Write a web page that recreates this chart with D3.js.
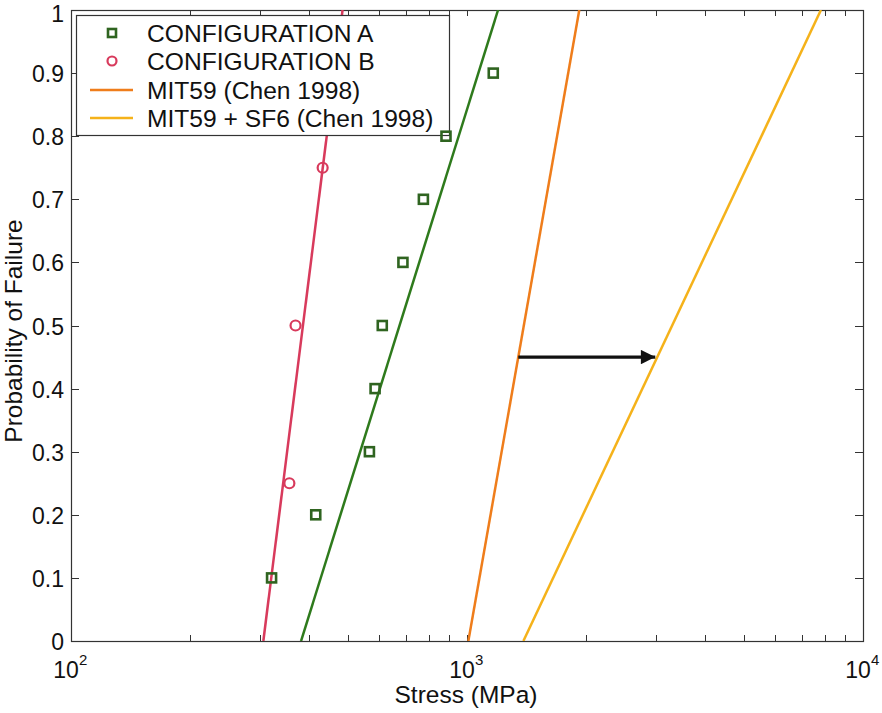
<!DOCTYPE html>
<html>
<head>
<meta charset="utf-8">
<script src="https://cdn.jsdelivr.net/npm/d3@7"></script>
<style>
  html, body { margin: 0; padding: 0; background: #fff; }
  svg { display: block; }
  text { font-family: "Liberation Sans", Arial, Helvetica, sans-serif; fill: #111; }
</style>
</head>
<body>
<svg id="chart" width="882" height="713"></svg>
<script>
// Weibull-type failure data (stress in MPa vs probability of failure)
const probA   = [0.1, 0.2, 0.3, 0.4, 0.5, 0.6, 0.7, 0.8, 0.9];
const stressA = [321, 415, 567, 586, 611, 689, 776, 885, 1165];

const probB   = [0.25, 0.5, 0.75];
const stressB = [356, 369, 432];

// Fitted / reference lines: [stress, probability] end points
const fitA     = [[381, 0], [1198, 1]];
const fitB     = [[306, 0], [485, 1]];
const mit59    = [[1008, 0], [1921, 1]];
const mit59sf6 = [[1388, 0], [7830, 1]];

// Arrow showing the shift between the two Chen (1998) curves
const arrowProb = 0.45;

const xTickValues = [100, 1000, 10000];
const xTickExps   = ["2", "3", "4"];
const yTickValues = [0, 0.1, 0.2, 0.3, 0.4, 0.5, 0.6, 0.7, 0.8, 0.9, 1];
const yTickLabels = ["0", "0.1", "0.2", "0.3", "0.4", "0.5", "0.6", "0.7", "0.8", "0.9", "1"];

const legendLabels = ["CONFIGURATION A", "CONFIGURATION B", "MIT59 (Chen 1998)", "MIT59 + SF6 (Chen 1998)"];

const colA = "#2f6420", colLineA = "#2e7a1c";
const colB = "#d83a5c";
const colMit = "#ef7d1b";
const colSf6 = "#f5b21a";

const svg = d3.select("#chart");
const plotL = 71, plotR = 863, plotT = 10, plotB = 641;

const x = d3.scaleLog().domain([100, 10000]).range([plotL, plotR]);
const y = d3.scaleLinear().domain([0, 1]).range([plotB, plotT]);

// minor ticks on the log axis
const minorX = [];
for (let d = 100; d < 10000; d *= 10) for (let k = 2; k <= 9; k++) minorX.push(d * k);

const axisColor = "#333";

// ticks pointing inward on all four sides
const gT = svg.append("g").attr("stroke", axisColor).attr("stroke-width", 1);
[...xTickValues, ...minorX].forEach(v => {
  const px = Math.round(x(v)) + 0.5;
  gT.append("line").attr("x1", px).attr("x2", px).attr("y1", plotB).attr("y2", plotB - 6);
  gT.append("line").attr("x1", px).attr("x2", px).attr("y1", plotT).attr("y2", plotT + 6);
});
yTickValues.forEach(v => {
  const py = Math.round(y(v)) + 0.5;
  gT.append("line").attr("x1", plotL).attr("x2", plotL + 8).attr("y1", py).attr("y2", py);
  gT.append("line").attr("x1", plotR).attr("x2", plotR - 8).attr("y1", py).attr("y2", py);
});

// axis box
svg.append("rect").attr("x", plotL + 0.5).attr("y", plotT + 0.5)
  .attr("width", plotR - plotL).attr("height", plotB - plotT)
  .attr("fill", "none").attr("stroke", axisColor).attr("stroke-width", 1.2);

// y tick labels (top one kept inside the page)
svg.append("g").selectAll("text").data(yTickValues).join("text")
  .attr("x", 64).attr("y", d => Math.max(y(d) + 9, 22))
  .attr("text-anchor", "end").attr("font-size", 23)
  .text((d, i) => yTickLabels[i]);

// x tick labels 10^n
const xl = svg.append("g").selectAll("g").data(xTickValues).join("g")
  .attr("transform", d => `translate(${x(d)},678)`);
xl.append("text").attr("x", -5).attr("text-anchor", "middle").attr("font-size", 23).text("10");
xl.append("text").attr("x", 8).attr("y", -13).attr("font-size", 15).text((d, i) => xTickExps[i]);

// axis titles
svg.append("text").attr("x", 466).attr("y", 703).attr("text-anchor", "middle")
  .attr("font-size", 24.5).text("Stress (MPa)");
svg.append("text").attr("transform", "translate(22,331) rotate(-90)")
  .attr("text-anchor", "middle").attr("font-size", 24.5).text("Probability of Failure");

// clip for plotted lines
svg.append("clipPath").attr("id", "plotClip").append("rect")
  .attr("x", plotL).attr("y", plotT).attr("width", plotR - plotL).attr("height", plotB - plotT);

const line = d3.line().x(d => x(d[0])).y(d => y(d[1]));
const plot = svg.append("g").attr("clip-path", "url(#plotClip)");

plot.append("path").datum(fitB).attr("d", line).attr("fill", "none").attr("stroke", colB).attr("stroke-width", 2.5);
plot.append("path").datum(fitA).attr("d", line).attr("fill", "none").attr("stroke", colLineA).attr("stroke-width", 2.5);
plot.append("path").datum(mit59).attr("d", line).attr("fill", "none").attr("stroke", colMit).attr("stroke-width", 2.5);
plot.append("path").datum(mit59sf6).attr("d", line).attr("fill", "none").attr("stroke", colSf6).attr("stroke-width", 2.5);

// stress on a log-linear fit line at a given probability
function stressAt(seg, p) {
  const l0 = Math.log10(seg[0][0]), l1 = Math.log10(seg[1][0]);
  const t = (p - seg[0][1]) / (seg[1][1] - seg[0][1]);
  return Math.pow(10, l0 + t * (l1 - l0));
}

// arrow
svg.append("defs").append("marker").attr("id", "arrowHead")
  .attr("viewBox", "0 0 10 10").attr("refX", 10).attr("refY", 5)
  .attr("markerWidth", 6).attr("markerHeight", 4.5).attr("markerUnits", "strokeWidth")
  .attr("orient", "auto")
  .append("path").attr("d", "M0,0 L10,5 L0,10 Z").attr("fill", "#111");
const ax0 = x(stressAt(mit59, arrowProb)), ax1 = x(stressAt(mit59sf6, arrowProb));
svg.append("line").attr("x1", ax0).attr("x2", ax1 - 2)
  .attr("y1", y(arrowProb)).attr("y2", y(arrowProb))
  .attr("stroke", "#111").attr("stroke-width", 3.2).attr("marker-end", "url(#arrowHead)");

// data points
const ptsA = probA.map((p, i) => [stressA[i], p]);
const ptsB = probB.map((p, i) => [stressB[i], p]);

// legend (drawn over the lines)
const lg = svg.append("g");
lg.append("rect").attr("x", 76.5).attr("y", 15.5).attr("width", 373).attr("height", 120)
  .attr("fill", "#fff").attr("stroke", axisColor).attr("stroke-width", 1.2);
const rowY = [33, 61, 90, 118];
legendLabels.forEach((lab, i) => {
  lg.append("text").attr("x", 147).attr("y", rowY[i] + 8.5).attr("font-size", 24.6).text(lab);
});
lg.append("rect").attr("x", 108).attr("y", rowY[0] - 4).attr("width", 8).attr("height", 8)
  .attr("fill", "none").attr("stroke", colA).attr("stroke-width", 2.6);
lg.append("circle").attr("cx", 112).attr("cy", rowY[1]).attr("r", 4.5)
  .attr("fill", "none").attr("stroke", colB).attr("stroke-width", 2.2);
lg.append("line").attr("x1", 90).attr("x2", 133).attr("y1", rowY[2]).attr("y2", rowY[2])
  .attr("stroke", colMit).attr("stroke-width", 2.5);
lg.append("line").attr("x1", 90).attr("x2", 133).attr("y1", rowY[3]).attr("y2", rowY[3])
  .attr("stroke", colSf6).attr("stroke-width", 2.5);

svg.append("g").selectAll("circle").data(ptsB).join("circle")
  .attr("cx", d => x(d[0])).attr("cy", d => y(d[1])).attr("r", 5)
  .attr("fill", "none").attr("stroke", colB).attr("stroke-width", 2.2);
svg.append("g").selectAll("rect").data(ptsA).join("rect")
  .attr("x", d => x(d[0]) - 4.5).attr("y", d => y(d[1]) - 4.5)
  .attr("width", 9).attr("height", 9)
  .attr("fill", "none").attr("stroke", colA).attr("stroke-width", 2.6);
</script>
</body>
</html>
